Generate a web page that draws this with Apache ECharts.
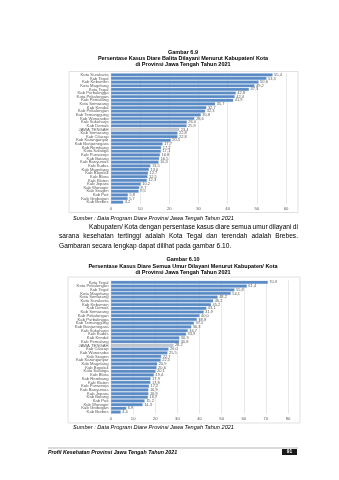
<!DOCTYPE html>
<html><head><meta charset="utf-8">
<script src="https://cdn.jsdelivr.net/npm/echarts@6/dist/echarts.min.js"></script>
<style>html,body{margin:0;padding:0;background:#fff}#c{width:339px;height:480px}</style>
</head><body><div id="c"></div>
<script>
var cats1 = ['Kota Surakarta','Kab Tegal','Kab Kebumen','Kota Magelang','Kota Tegal','Kab Purbalingga','Kota Pekalongan','Kab Pemalang','Kota Semarang','Kab Kendal','Kab Pekalongan','Kab Temanggung','Kab Wonosobo','Kab Sukoharjo','Kab Demak','JAWA TENGAH','Kab Semarang','Kab Cilacap','Kab Karanganyar','Kab Banjarnegara','Kab Rembang','Kota Salatiga','Kab Purworejo','Kab Batang','Kab Banyumas','Kab Kudus','Kab Magelang','Kab Boyolali','Kab Blora','Kab Klaten','Kab Jepara','Kab Wonogiri','Kab Sragen','Kab Pati','Kab Grobogan','Kab Brebes'];
var vals1 = [55.4,53.3,50.6,49.2,47.3,42.8,42.4,41.9,35.7,32.7,32.3,30.8,28.6,26.0,25.9,23.4,22.8,22.8,20.5,17.7,17.2,17.1,16.8,16.5,16.3,13.5,13.0,12.7,12.5,12.3,10.2,9.7,9.5,5.8,5.7,4.2];
var cats2 = ['Kota Tegal','Kota Pekalongan','Kab Tegal','Kota Magelang','Kota Semarang','Kota Surakarta','Kab Kebumen','Kab Demak','Kab Semarang','Kab Pekalongan','Kab Purbalingga','Kab Temanggung','Kab Banjarnegara','Kab Sukoharjo','Kab Kudus','Kab Kendal','Kab Pemalang','JAWA TENGAH','Kab Cilacap','Kab Wonosobo','Kab Sragen','Kab Karanganyar','Kab Magelang','Kab Boyolali','Kota Salatiga','Kab Blora','Kab Rembang','Kab Klaten','Kab Purworejo','Kab Banyumas','Kab Jepara','Kab Batang','Kab Pati','Kab Wonogiri','Kab Grobogan','Kab Brebes'];
var vals2 = [70.9,61.4,55.8,54.1,48.2,46.2,45.2,43.1,41.9,40.0,38.8,37.5,36.3,34.7,33.9,30.9,30.8,28.2,26.0,25.5,22.7,22.5,20.9,20.6,20.1,19.4,17.9,17.8,17.2,16.9,16.9,16.7,15.2,14.3,6.9,4.4];
var ticks1 = [0,10,20,30,40,50,60];
var ticks2 = [0,10,20,30,40,50,60,70,80];
var title1 = ['Gambar 6.9','Persentase Kasus Diare Balita Dilayani Menurut Kabupaten/ Kota','di Provinsi Jawa Tengah Tahun 2021'];
var title2 = ['Gambar 6.10','Persentase Kasus Diare Semua Umur Dilayani Menurut Kabupaten/ Kota','di Provinsi Jawa Tengah Tahun 2021'];
var sourceText = 'Sumber : Data Program Diare Provinsi Jawa Tengah Tahun 2021';
var paragraph = ['Kabupaten/ Kota dengan persentase kasus diare semua umur dilayani di','sarana kesehatan tertinggi adalah Kota Tegal dan terendah adalah Brebes.','Gambaran secara lengkap dapat dilihat pada gambar 6.10.'];
var footerText = 'Profil Kesehatan Provinsi Jawa Tengah Tahun 2021';
var pageNo = '91';

var BLUE = '#5a8ac4', GREY = '#c3c7cc', FONT = 'Liberation Sans, Arial, sans-serif';
function barData(cats, vals){
  return vals.map(function(v,i){
    return {value:v, itemStyle:{color: cats[i]==='JAWA TENGAH'?GREY:BLUE}};
  });
}
function fmt(p){ return p.value.toFixed(1).replace('.', ','); }
function txt(t,x,y,opt){
  opt = opt||{};
  return {type:'text', z:10, style:{text:t, x:x, y:y, fill:opt.fill||'#000',
    fontSize:opt.size||6, fontWeight:opt.weight||'normal', fontStyle:opt.style||'normal',
    fontFamily:FONT, align:opt.align||'left', verticalAlign:'middle'}};
}
var measureCtx = document.createElement('canvas').getContext('2d');
function justified(line, x0, x1, y, size){
  measureCtx.font = size + 'px ' + FONT;
  var words = line.split(' ');
  var widths = words.map(function(w){ return measureCtx.measureText(w).width; });
  var total = widths.reduce(function(a,b){return a+b;},0);
  var gap = (x1 - x0 - total) / (words.length - 1);
  var out = [], x = x0;
  words.forEach(function(w,i){ out.push(txt(w, x, y, {size:size})); x += widths[i] + gap; });
  return out;
}
var PSIZE = 6.6;
var graphics = [
  {type:'rect', shape:{x:69,y:71.5,width:229,height:141}, style:{fill:'none',stroke:'#d9d9d9',lineWidth:0.8}},
  {type:'rect', shape:{x:68,y:277,width:232,height:146}, style:{fill:'none',stroke:'#d9d9d9',lineWidth:0.8}},
  txt(title1[0],183,52,{size:5.5,weight:'bold',align:'center'}),
  txt(title1[1],183,58,{size:5.5,weight:'bold',align:'center'}),
  txt(title1[2],183,64.5,{size:5.5,weight:'bold',align:'center'}),
  txt(sourceText,73,218,{size:5.6,style:'italic'}),
  txt(paragraph[2],59,245.7,{size:PSIZE}),
  txt(title2[0],183,259.5,{size:5.5,weight:'bold',align:'center'}),
  txt(title2[1],183,266,{size:5.5,weight:'bold',align:'center'}),
  txt(title2[2],183,272.3,{size:5.5,weight:'bold',align:'center'}),
  txt(sourceText,73,427.5,{size:5.6,style:'italic'}),
  {type:'line', shape:{x1:48,y1:448,x2:298,y2:448}, style:{stroke:'#999',lineWidth:0.7}},
  txt(footerText,48,452.5,{size:5.3,weight:'bold',style:'italic'}),
  {type:'rect', shape:{x:282,y:449,width:15,height:6}, style:{fill:'#1a1a1a'}},
  txt(pageNo,289.5,452,{size:4.8,weight:'bold',align:'center',fill:'#fff'})
].concat(justified(paragraph[0], 89, 298, 227, PSIZE), justified(paragraph[1], 59, 298, 236.4, PSIZE));

function yAx(idx, cats){
  return {type:'category', gridIndex:idx, data:cats, inverse:true,
    axisLine:{show:false}, axisTick:{show:false},
    axisLabel:{interval:0, fontSize:4.2, color:'#595959', fontFamily:FONT, margin:2.5}};
}
function xAx(idx, ticks){
  return {type:'value', gridIndex:idx, min:ticks[0], max:ticks[ticks.length-1], interval:ticks[1]-ticks[0],
    axisLine:{show:false}, axisTick:{show:false},
    splitLine:{show:true, lineStyle:{color:'#d9d9d9', width:0.6}},
    axisLabel:{fontSize:4.2, color:'#595959', fontFamily:FONT, margin:3}};
}
function ser(idx, cats, vals){
  return {type:'bar', xAxisIndex:idx, yAxisIndex:idx, data:barData(cats, vals),
    barCategoryGap:'18%', animation:false,
    itemStyle:{borderColor:'#8fb0dc', borderWidth:0.3},
    label:{show:true, position:'right', distance:1.5, fontSize:4, color:'#595959', fontFamily:FONT, formatter:fmt}};
}

var chart = echarts.init(document.getElementById('c'), null, {renderer:'canvas'});
chart.setOption({
  backgroundColor:'#fff',
  animation:false,
  grid:[
    {left:111, right:339-286, top:73, height:131},
    {left:111, right:339-288, top:280.5, height:133.4}
  ],
  xAxis:[xAx(0,ticks1), xAx(1,ticks2)],
  yAxis:[yAx(0,cats1), yAx(1,cats2)],
  series:[ser(0,cats1,vals1), ser(1,cats2,vals2)],
  graphic:graphics
});
</script></body></html>
